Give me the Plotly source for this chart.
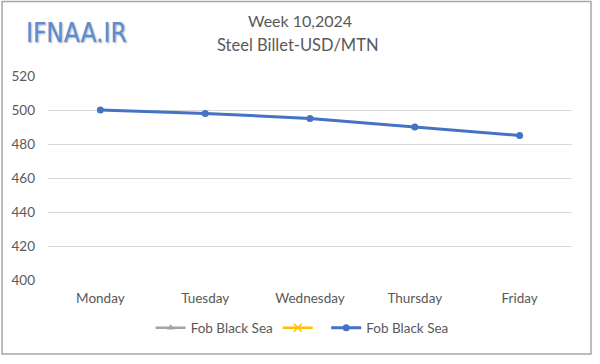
import plotly.graph_objects as go

days = ["Monday", "Tuesday", "Wednesday", "Thursday", "Friday"]
fob_black_sea = [500, 498, 495, 490, 485]
grey_series = [None, None, None, None, None]
yellow_series = [None, None, None, None, None]
y_ticks = [400, 420, 440, 460, 480, 500, 520]

txt = "#595959"
font_family = "Lato, 'Open Sans', sans-serif"

fig = go.Figure()
fig.add_trace(go.Scatter(x=days, y=grey_series, name="Fob Black Sea", mode="lines+markers",
                         line=dict(color="#A5A5A5", width=2.5),
                         marker=dict(symbol="triangle-up", size=7, color="#A5A5A5")))
fig.add_trace(go.Scatter(x=days, y=yellow_series, name=" ", mode="lines+markers",
                         line=dict(color="#FFC000", width=2.5),
                         marker=dict(symbol="x-thin", size=8, color="#FFC000",
                                     line=dict(color="#FFC000", width=1.5))))
fig.add_trace(go.Scatter(x=days, y=fob_black_sea, name="Fob Black Sea", mode="lines+markers",
                         line=dict(color="#4472C4", width=3),
                         marker=dict(symbol="circle", size=7, color="#4472C4")))

fig.update_layout(
    width=600, height=364,
    margin=dict(l=48, r=28, t=76, b=84),
    paper_bgcolor="white", plot_bgcolor="white",
    font=dict(family=font_family, size=13.5, color=txt),
    showlegend=True,
    legend=dict(orientation="h", x=0.485, xanchor="center", y=-0.235, yanchor="middle",
                font=dict(size=13.5, color=txt), bgcolor="rgba(0,0,0,0)"),
    xaxis=dict(type="category", showgrid=False, showline=False, ticks="",
               tickfont=dict(size=13.5, color=txt), range=[-0.5, 4.5], ticklabelstandoff=8),
    yaxis=dict(range=[400, 520], tickvals=y_ticks, showgrid=True, gridcolor="#D9D9D9",
               gridwidth=1, zeroline=False, showline=False, ticks="",
               tickfont=dict(size=13.5, color=txt), ticklabelstandoff=12),
    shapes=[dict(type="rect", xref="paper", yref="paper",
                 x0=(2 - 48) / 525, x1=(592 - 48) / 525,
                 y0=(280 - 354) / 204, y1=(280 - 1.5) / 204,
                 line=dict(color="#A6A6A6", width=1.5), fillcolor="rgba(0,0,0,0)", layer="below")],
    annotations=[
        dict(text="Week 10,2024", xref="paper", yref="paper", x=(300 - 48) / 525,
             y=(280 - 20) / 204, showarrow=False, xanchor="center", yanchor="middle",
             font=dict(size=16, color=txt, family=font_family)),
        dict(text="Steel Billet-USD/MTN", xref="paper", yref="paper", x=(298 - 48) / 525,
             y=(280 - 45) / 204, showarrow=False, xanchor="center", yanchor="middle",
             font=dict(size=16.5, color=txt, family=font_family)),
        dict(text="IFNAA.IR", xref="paper", yref="paper", x=(24 - 48) / 525,
             y=(280 - 33) / 204, showarrow=False, xanchor="left", yanchor="middle",
             font=dict(size=26, color="#5B8BD0", family="'Liberation Sans Narrow', 'DejaVu Sans Condensed', sans-serif",
                       shadow="1px 1px 2px #9aa8bd")),
    ],
)

fig.write_html("out.html", config={"displayModeBar": False},
               post_script="document.body.style.margin='0';document.body.style.overflow='hidden';")
